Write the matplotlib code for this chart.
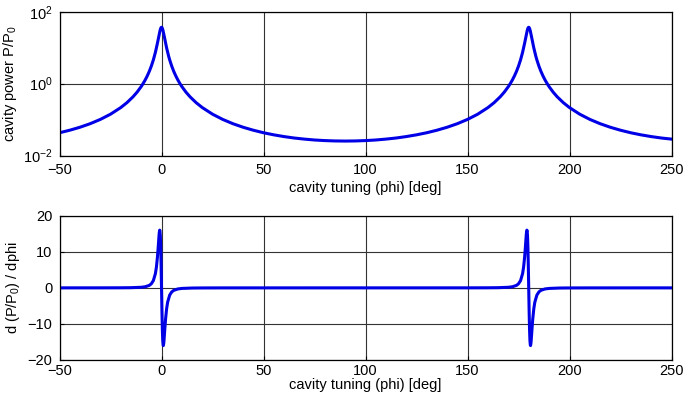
import numpy as np
import matplotlib
matplotlib.use("Agg")
import matplotlib.pyplot as plt

plt.rcParams['font.family'] = ['Liberation Sans', 'DejaVu Sans']
plt.rcParams['mathtext.default'] = 'regular'
plt.rcParams['font.size'] = 10.5

# cavity tuning (deg) and power P/P0
phi = [-50, -45, -40, -35, -30, -25, -20, -17, -14, -12, -10, -9, -8, -7, -6, -5, -4, -3.5, -3, -2.5,
       -2, -1.5, -1.25, -1, -0.75, -0.5, -0.25, 0,
       0.25, 0.5, 0.75, 1, 1.25, 1.5, 2, 2.5, 3, 3.5, 4, 5, 6, 7, 8, 9, 10, 12, 14, 17, 20, 25,
       30, 35, 40, 45, 50, 55, 60, 65, 70, 75, 80, 85, 90,
       95, 100, 105, 110, 115, 120, 125, 130, 135, 140, 145, 150, 155, 160, 163, 166, 168, 170,
       171, 172, 173, 174, 175, 176, 176.5, 177, 177.5, 178, 178.5, 178.75, 179, 179.25, 179.5, 179.75, 180,
       180.25, 180.5, 180.75, 181, 181.25, 181.5, 182, 182.5, 183, 183.5, 184, 185, 186, 187, 188, 189,
       190, 192, 194, 197, 200, 205, 210, 215, 220, 225, 230, 235, 240, 245, 250]
power = [0.0434, 0.0510, 0.0617, 0.0774, 0.1018, 0.1423, 0.2169, 0.2961, 0.4309, 0.581, 0.8273, 1.014,
         1.272, 1.642, 2.197, 3.08, 4.593, 5.778, 7.442, 9.843, 13.38, 18.56, 21.89, 25.67, 29.64, 33.32,
         36.01, 37.0,
         36.01, 33.32, 29.64, 25.67, 21.89, 18.56, 13.38, 9.843, 7.442, 5.778, 4.593, 3.08, 2.197, 1.642,
         1.272, 1.014, 0.8273, 0.581, 0.4309, 0.2961, 0.2169, 0.1423,
         0.1018, 0.0774, 0.0617, 0.0510, 0.0434, 0.0380, 0.0340, 0.0310, 0.0289, 0.0273, 0.0263, 0.0257, 0.0255,
         0.0257, 0.0263, 0.0273, 0.0289, 0.0310, 0.0340, 0.0380, 0.0434, 0.0510, 0.0617, 0.0774, 0.1018,
         0.1423, 0.2169, 0.2961, 0.4309, 0.581, 0.8273,
         1.014, 1.272, 1.642, 2.197, 3.08, 4.593, 5.778, 7.442, 9.843, 13.38, 18.56, 21.89, 25.67, 29.64,
         33.32, 36.01, 37.0,
         36.01, 33.32, 29.64, 25.67, 21.89, 18.56, 13.38, 9.843, 7.442, 5.778, 4.593, 3.08, 2.197, 1.642,
         1.272, 1.014,
         0.8273, 0.581, 0.4309, 0.2961, 0.2169, 0.1423, 0.1018, 0.0774, 0.0617, 0.0510, 0.0434, 0.0380,
         0.0340, 0.0310, 0.0289]

# derivative d(P/P0)/dphi
phi_d = [-50, -30, -20, -15, -10, -8, -6, -5, -4, -3, -2.5, -2, -1.7, -1.4, -1.2, -1.1, -1, -0.9, -0.8,
         -0.6, -0.4, -0.2, 0, 0.2, 0.4, 0.6, 0.8, 0.9, 1, 1.1, 1.2, 1.4, 1.7, 2, 2.5, 3, 4, 5, 6, 8, 10,
         15, 20, 30, 50, 90, 130,
         150, 160, 165, 170, 172, 174, 175, 176, 177, 177.5, 178, 178.3, 178.6, 178.8, 178.9, 179, 179.1,
         179.2, 179.4, 179.6, 179.8, 180, 180.2, 180.4, 180.6, 180.8, 180.9, 181, 181.1, 181.2, 181.4,
         181.7, 182, 182.5, 183, 184, 185, 186, 188, 190, 195, 200, 210, 230, 250]
dpower = [0.0013, 0.0061, 0.0207, 0.0486, 0.16, 0.305, 0.686, 1.13, 2.01, 3.96, 5.78, 8.54, 10.7, 13.1,
          14.7, 15.3, 15.7, 16.0, 15.9, 14.6, 11.4, 6.31, 0,
          -6.31, -11.4, -14.6, -15.9, -16.0, -15.7, -15.3, -14.7, -13.1, -10.7, -8.54, -5.78, -3.96, -2.01,
          -1.13, -0.686, -0.305, -0.16, -0.0486, -0.0207, -0.0061, -0.0013, 0, 0.0013,
          0.0061, 0.0207, 0.0486, 0.16, 0.305, 0.686, 1.13, 2.01, 3.96, 5.78, 8.54, 10.7, 13.1, 14.7, 15.3,
          15.7, 16.0, 15.9, 14.6, 11.4, 6.31, 0,
          -6.31, -11.4, -14.6, -15.9, -16.0, -15.7, -15.3, -14.7, -13.1, -10.7, -8.54, -5.78, -3.96, -2.01,
          -1.13, -0.686, -0.305, -0.16, -0.0486, -0.0207, -0.0061, -0.0013, -0.0003]

xticks = [-50, 0, 50, 100, 150, 200, 250]

fig = plt.figure(figsize=(6.85, 3.98), dpi=100)
ax1 = fig.add_axes([0.0869, 0.6088, 0.8934, 0.3618])
ax2 = fig.add_axes([0.0869, 0.0955, 0.8934, 0.3625])

ax1.semilogy(phi, power, color='#0000e6', lw=2.2)
ax1.set_xlim(-50, 250)
ax1.set_ylim(1e-2, 1e2)
ax1.set_yticks([1e-2, 1e0, 1e2])
ax1.minorticks_off()
ax1.set_ylabel('cavity power P/P$_0$', labelpad=3)
ax1.set_xlabel('cavity tuning (phi) [deg]', labelpad=3)

ax2.plot(phi_d, dpower, color='#0000e6', lw=2.2)
ax2.set_xlim(-50, 250)
ax2.set_ylim(-20, 20)
ax2.set_yticks([-20, -10, 0, 10, 20])
ax2.set_ylabel('d (P/P$_0$) / dphi', labelpad=4)
ax2.set_xlabel('cavity tuning (phi) [deg]', labelpad=0)

for ax in (ax1, ax2):
    ax.set_xticks(xticks)
    ax.grid(True, color='0.2', lw=0.8)
    ax.set_axisbelow(True)
    ax.tick_params(direction='in', length=3, width=0.8, pad=5)
    for s in ax.spines.values():
        s.set_linewidth(0.9)
ax2.tick_params(axis='x', pad=3)

fig.savefig('out.png', dpi=100)
